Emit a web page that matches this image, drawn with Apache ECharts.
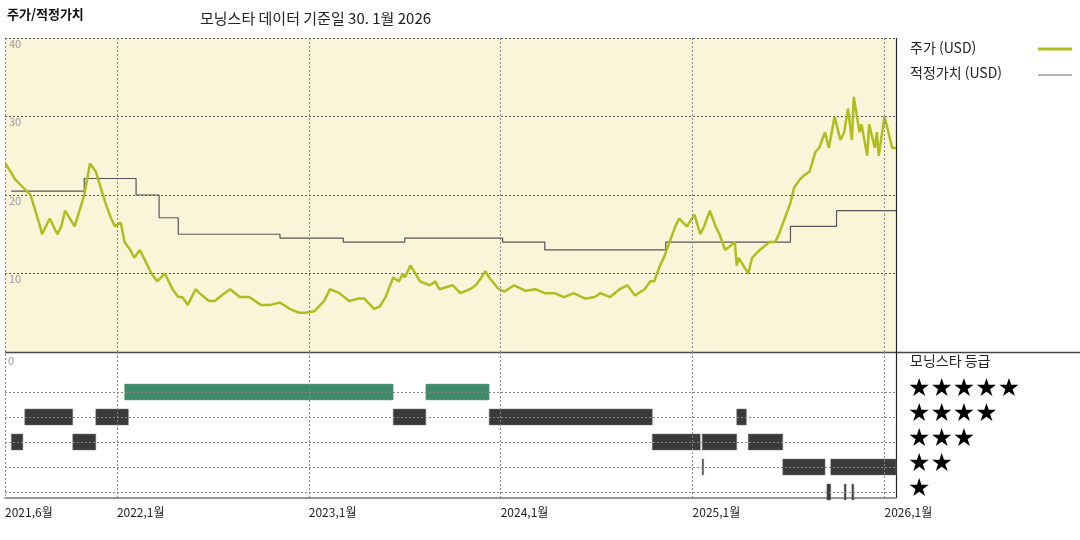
<!DOCTYPE html>
<html lang="ko">
<head>
<meta charset="UTF-8">
<title>주가/적정가치</title>
<script src="https://cdn.jsdelivr.net/npm/echarts@6/dist/echarts.min.js"></script>
<style>body{margin:0;background:#fff}#main{width:1080px;height:540px}</style>
</head>
<body>
<div id="main"></div>
<script>
// 시간은 소수 연도
var priceT = [2021.42,2021.47,2021.55,2021.60,2021.61,2021.65,2021.69,2021.71,2021.73,2021.78,2021.83,2021.86,2021.89,2021.94,2021.97,2021.99,
  2022.02,2022.04,2022.07,2022.09,2022.12,2022.16,2022.18,2022.21,2022.25,2022.29,2022.32,2022.34,2022.37,2022.41,2022.43,2022.48,2022.51,2022.55,2022.59,2022.64,2022.69,2022.75,2022.80,2022.85,2022.90,2022.95,2022.98,
  2023.03,2023.08,2023.11,2023.16,2023.21,2023.26,2023.29,2023.34,2023.37,2023.40,2023.44,2023.47,2023.49,2023.50,2023.53,2023.58,2023.63,2023.66,2023.68,2023.75,2023.79,2023.84,2023.87,2023.90,2023.92,2023.94,2023.99,
  2024.02,2024.07,2024.13,2024.18,2024.23,2024.28,2024.33,2024.38,2024.44,2024.49,2024.52,2024.57,2024.62,2024.66,2024.70,2024.75,2024.78,2024.80,2024.83,2024.85,2024.88,2024.91,2024.93,2024.97,
  2025.01,2025.04,2025.06,2025.09,2025.12,2025.14,2025.17,2025.22,2025.23,2025.24,2025.29,2025.31,2025.35,2025.40,2025.43,2025.45,2025.48,2025.51,2025.53,2025.56,2025.58,2025.61,2025.64,2025.66,2025.69,2025.71,2025.74,2025.77,2025.79,2025.81,2025.83,2025.84,2025.87,2025.88,2025.91,2025.92,2025.95,2025.96,2025.97,2026.00,2026.03,2026.04,2026.06];
var priceV = [24,22,20,16,15,17,15,16,18,16,20,24,23,19,17,16,
  16.5,14,13,12,13,11,10,9,10,8,7,7,6,8,7.5,6.5,6.5,7.3,8,7,7,6,6,6.3,5.5,5,5,5.2,
  6.5,8,7.5,6.5,6.8,6.8,5.5,5.8,7,9.5,9,10,9.5,11,9,8.5,9,8,8.5,7.5,8,8.5,9.5,10.3,9.5,8,7.7,
  8.5,7.8,8,7.5,7.5,7,7.5,6.8,7,7.5,7,8,8.5,7.2,8,9,9,11,12,14,16,17,16,17.5,
  15,16,18,16,15,13,14,11,12,10,12,13,14,14,15,17,19,21,22,22.5,23,25.5,26,28,26,30,27,28,31,27,32.5,28,29,25,29,26,28,25,30,27,26,26,23.5];

var fairT = [2021.45,2021.83,2022.10,2022.22,2022.32,2022.85,2023.18,2023.50,2024.01,2024.23,2024.86,2025.51,2025.75,2026.06];
var fairV = [20.5,22.1,20,17.1,15,14.5,14,14.5,14,13,14,16,18,18];

// 등급 구간: [시작, 끝, 별 수]
var ratingSeg = [
  [2022.04,2023.44,5],[2023.61,2023.94,5],
  [2021.52,2021.77,4],[2021.89,2022.06,4],[2023.44,2023.61,4],[2023.94,2024.79,4],[2025.23,2025.28,4],
  [2021.45,2021.51,3],[2021.77,2021.89,3],[2024.79,2025.04,3],[2025.05,2025.23,3],[2025.29,2025.47,3],
  [2025.05,2025.052,2],[2025.47,2025.69,2],[2025.72,2026.06,2],
  [2025.70,2025.72,1],[2025.79,2025.80,1],[2025.83,2025.84,1]
];
var xTicks = [2021.417,2022,2023,2024,2025,2026];
var starLabels = ['★★★★★','★★★★','★★★','★★','★'];

var X0 = 2021.417, X1 = 2026.06;
var fontKR = '"Noto Sans CJK KR", sans-serif';

function fmtX(v) {
  var y = Math.floor(v + 1e-6);
  var m = Math.round((v - y) * 12) + 1;
  return y + ',' + m + '월';
}

var stepData = [];
for (var i = 0; i < fairT.length; i++) {
  stepData.push([fairT[i], fairV[i]]);
  if (i + 1 < fairT.length) stepData.push([fairT[i + 1], fairV[i]]);
}

var yearLines = xTicks.slice(1).map(function (t) { return { xAxis: t }; });
var dashGray = { color: '#888', type: [2, 2], width: 1 };

var graphics = [
  { type: 'text', left: 7, top: 8, style: { text: '주가/적정가치', font: 'bold 13px ' + fontKR, fill: '#111' } },
  { type: 'text', left: 200, top: 11, style: { text: '모닝스타 데이터 기준일 30. 1월 2026', font: '15px ' + fontKR, fill: '#222' } },
  { type: 'line', shape: { x1: 5, y1: 38.5, x2: 896, y2: 38.5 }, style: { stroke: '#888', lineDash: [2, 2] } },
  { type: 'line', shape: { x1: 5.5, y1: 38, x2: 5.5, y2: 498 }, style: { stroke: '#888', lineDash: [2, 2] } },
  { type: 'line', shape: { x1: 5, y1: 352.5, x2: 1080, y2: 352.5 }, style: { stroke: '#444', lineWidth: 1.5 } },
  { type: 'line', shape: { x1: 896.5, y1: 38, x2: 896.5, y2: 498 }, style: { stroke: '#222', lineWidth: 1.2 } },
  { type: 'text', left: 8, top: 355, style: { text: '0', font: '11px ' + fontKR, fill: '#999' } },
  { type: 'text', left: 910, top: 41, style: { text: '주가 (USD)', font: '14px ' + fontKR, fill: '#222' } },
  { type: 'line', shape: { x1: 1038, y1: 49, x2: 1072, y2: 49 }, style: { stroke: '#b1bc1e', lineWidth: 3 } },
  { type: 'text', left: 910, top: 66, style: { text: '적정가치 (USD)', font: '14px ' + fontKR, fill: '#222' } },
  { type: 'line', shape: { x1: 1038, y1: 75, x2: 1072, y2: 75 }, style: { stroke: '#666', lineWidth: 1.2 } },
  { type: 'text', left: 910, top: 354, style: { text: '모닝스타 등급', font: '14px ' + fontKR, fill: '#222' } }
];
starLabels.forEach(function (s, k) {
  graphics.push({ type: 'text', left: 908, top: 377 + k * 25, style: { text: s, font: '25px "DejaVu Sans"', fill: '#000' } });
});

var chart = echarts.init(document.getElementById('main'));
chart.setOption({
  animation: false,
  textStyle: { fontFamily: fontKR },
  grid: [
    { left: 5, right: 184, top: 38, height: 314, show: true, backgroundColor: '#faf5d9', borderWidth: 0 },
    { left: 5, right: 184, top: 352, height: 146, show: false }
  ],
  xAxis: [
    { type: 'value', gridIndex: 0, min: X0, max: X1, axisLine: { show: false }, axisTick: { show: false }, axisLabel: { show: false }, splitLine: { show: false } },
    { type: 'value', gridIndex: 1, min: X0, max: X1,
      axisLine: { show: true, lineStyle: { color: '#777', width: 1.5 } }, axisTick: { show: false }, splitLine: { show: false },
      axisLabel: { customValues: xTicks, formatter: fmtX, align: 'left', margin: 8, fontSize: 12, color: '#222', fontFamily: fontKR } }
  ],
  yAxis: [
    { type: 'value', gridIndex: 0, min: 0, max: 40, interval: 10, axisLine: { show: false }, axisTick: { show: false },
      axisLabel: { inside: true, verticalAlign: 'top', margin: 4, color: '#999', fontSize: 11, formatter: function (v) { return v === 0 ? '' : v; } },
      splitLine: { show: true, lineStyle: { color: '#555', type: [2, 2] } } },
    { type: 'value', gridIndex: 1, min: 0.76, max: 6.6, axisLine: { show: false }, axisTick: { show: false }, axisLabel: { show: false }, splitLine: { show: false } }
  ],
  series: [
    { name: '적정가치 (USD)', type: 'line', xAxisIndex: 0, yAxisIndex: 0, data: stepData, symbol: 'none',
      lineStyle: { color: '#555', width: 1.2 },
      markLine: { silent: true, symbol: 'none', label: { show: false }, lineStyle: dashGray, data: yearLines } },
    { name: '주가 (USD)', type: 'line', xAxisIndex: 0, yAxisIndex: 0, data: priceT.map(function (t, i) { return [t, priceV[i]]; }),
      symbol: 'none', lineStyle: { color: '#b1bc1e', width: 2.5 } },
    { type: 'custom', xAxisIndex: 1, yAxisIndex: 1, data: ratingSeg,
      markLine: { silent: true, symbol: 'none', label: { show: false }, lineStyle: dashGray,
        data: yearLines.concat([1, 2, 3, 4, 5].map(function (r) { return { yAxis: r }; })) },
      renderItem: function (params, api) {
        var a = api.coord([api.value(0), api.value(2)]);
        var b = api.coord([api.value(1), api.value(2)]);
        var w = Math.max(b[0] - a[0], 1.5);
        var green = api.value(2) === 5;
        return { type: 'rect', shape: { x: a[0], y: a[1] - 8, width: w, height: 16 },
          style: { fill: green ? '#3d8a6c' : '#3a3a3a', stroke: green ? '#6fae93' : '#777', lineWidth: 0.5 } };
      } }
  ],
  graphic: graphics
});
</script>
</body>
</html>
